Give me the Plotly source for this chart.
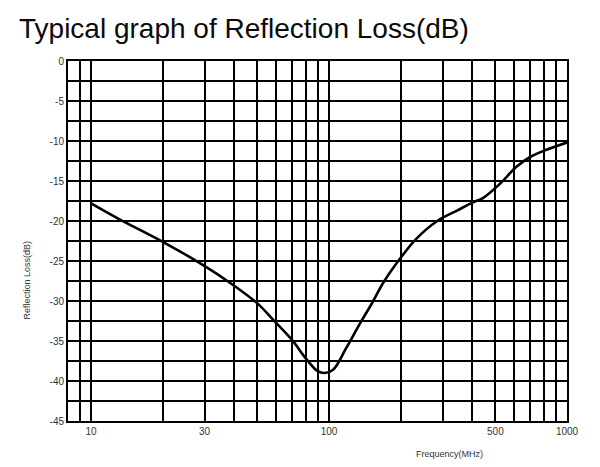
import plotly.graph_objects as go
import math

freq_mhz = [10, 13, 20, 27, 37, 50, 58, 70, 80, 89, 96, 104, 118, 135, 150,
            170, 200, 233, 285, 345, 400, 445, 520, 615, 700, 820, 1000]
loss_db = [-17.8, -19.7, -22.6, -24.8, -27.4, -30.3, -32.3, -34.9, -37.2,
           -38.7, -39.0, -38.6, -35.9, -32.8, -30.5, -27.6, -24.6, -22.2, -20.0,
           -18.7, -17.7, -17.1, -15.4, -13.2, -12.0, -11.1, -10.2]

x_tick_vals = [10, 30, 100, 500, 1000]
x_tick_text = ["10", "30", "100", "500", "1000"]
x_grid_vals = [8, 9, 10, 20, 30, 40, 50, 60, 70, 80, 90, 100,
               200, 300, 400, 500, 600, 700, 800, 900, 1000]
y_tick_vals = [0, -5, -10, -15, -20, -25, -30, -35, -40, -45]
y_tick_text = ["0", "-5", "-10", "-15", "-20", "-25", "-30", "-35", "-40", "-45"]

fig = go.Figure()
fig.add_trace(go.Scatter(
    x=freq_mhz, y=loss_db, mode="lines",
    line=dict(color="#000000", width=2.6, shape="spline", smoothing=1.0),
    showlegend=False, hoverinfo="skip"))

fig.update_layout(
    width=584, height=451,
    margin=dict(l=60, r=25, t=53, b=38),
    paper_bgcolor="white", plot_bgcolor="white",
    font=dict(family="Liberation Sans, Arial, sans-serif", color="#222"),
    showlegend=False,
    annotations=[
        dict(text="Typical graph of Reflection Loss(dB)", xref="paper", yref="paper",
             x=0, y=1.0, xanchor="left", yanchor="bottom", yshift=15,
             xshift=-51, showarrow=False,
             font=dict(size=28, color="#0a0a0a", family="Liberation Sans, Arial, sans-serif")),
        dict(text="Frequency(MHz)", xref="paper", yref="paper",
             x=0.765, y=0, xanchor="center", yanchor="top", yshift=-26,
             showarrow=False, font=dict(size=9, color="#333")),
        dict(text="Reflection Loss(dB)", xref="paper", yref="paper",
             x=0, y=0.39, xanchor="center", yanchor="middle", xshift=-41,
             textangle=-90, showarrow=False, font=dict(size=9, color="#333")),
    ],
)

fig.update_xaxes(
    type="log", range=[math.log10(8), 3],
    tickvals=x_tick_vals, ticktext=x_tick_text,
    tickfont=dict(size=10, color="#333"), ticks="", ticklen=0,
    showgrid=True, gridcolor="#000", gridwidth=2,
    minor=dict(tickvals=x_grid_vals, showgrid=True, gridcolor="#000", gridwidth=2, ticks=""),
    showline=True, linecolor="#000", linewidth=2, mirror=True,
    zeroline=False, fixedrange=True,
)
fig.update_yaxes(
    range=[-45, 0],
    tickvals=y_tick_vals, ticktext=y_tick_text,
    tickfont=dict(size=10, color="#333"), ticks="", ticklen=0,
    showgrid=True, gridcolor="#000", gridwidth=2,
    minor=dict(dtick=2.5, tick0=0, showgrid=True, gridcolor="#000", gridwidth=2, ticks=""),
    showline=True, linecolor="#000", linewidth=2, mirror=True,
    zeroline=False, fixedrange=True,
)

fig.write_html("out.html")
